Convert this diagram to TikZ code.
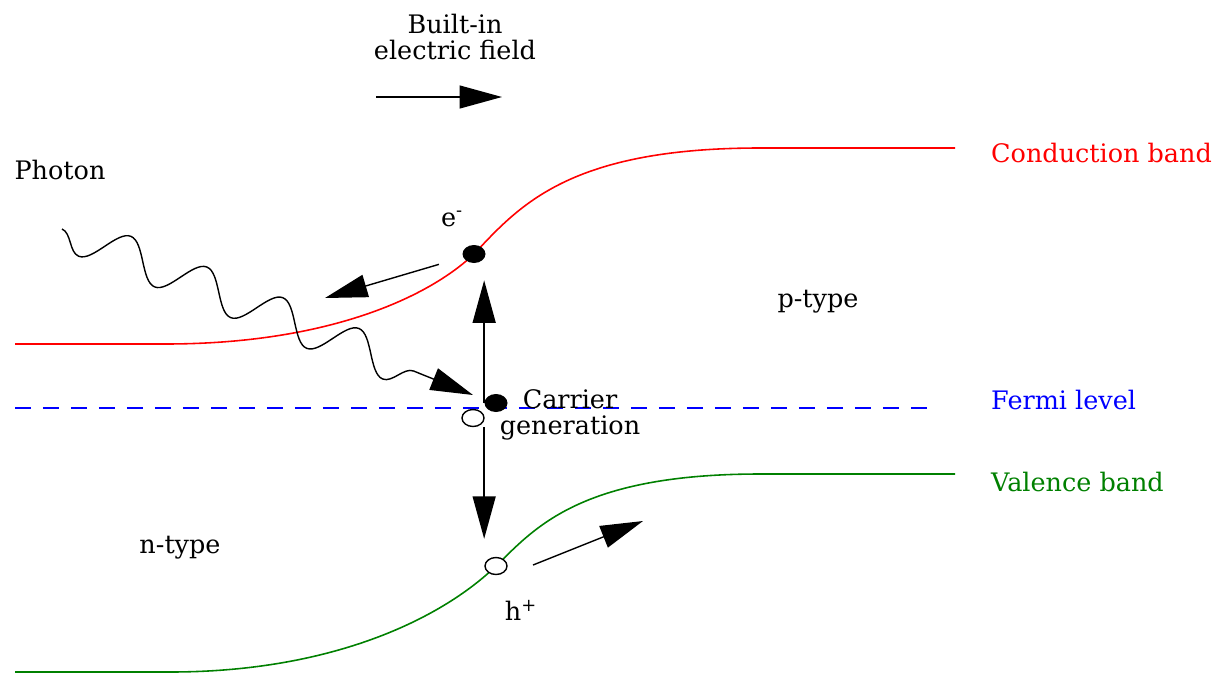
\documentclass[tikz,border=0pt]{standalone}
\usepackage{amsmath}
\usepackage{fontspec}
\setmainfont{DejaVu Serif}
\usetikzlibrary{arrows.meta,calc,decorations.pathmorphing,shapes.geometric}
\definecolor{cband}{HTML}{FF0000}
\definecolor{fermi}{HTML}{0000FF}
\definecolor{vband}{HTML}{008000}

\begin{document}
\begin{tikzpicture}[x=0.02cm,y=-0.02cm,font=\fontsize{14.5}{14.5}\selectfont,
  >={Triangle[length=0.85cm,width=0.46cm]},
  carrier/.style={->,line width=0.8pt},
  electron/.style={ellipse,fill=black,minimum width=0.46cm,minimum height=0.36cm,inner sep=0pt},
  hole/.style={ellipse,draw,fill=white,line width=0.8pt,minimum width=0.44cm,minimum height=0.34cm,inner sep=0pt},
  photon/.style={->,line width=0.8pt,decorate,
    decoration={snake,mirror,amplitude=0.38cm,segment length=1.64cm,post length=1.2cm}}]
  \useasboundingbox (0,0) rectangle (1216,673);
  % bands
  \draw[cband,line width=0.9pt] (15,344) -- (165,344) .. controls (330,344) and (430,296) .. (474,254)
    .. controls (520,205) and (570,148) .. (760,148) -- (955,148);
  \draw[vband,line width=0.9pt] (15,672) -- (170,672) .. controls (330,672) and (440,620) .. (496,566)
    .. controls (535,528) and (580,474) .. (760,474) -- (955,474);
  \draw[fermi,line width=0.9pt,dash pattern=on 0.32cm off 0.24cm] (15,408) -- (935,408);
  \node[anchor=west,text=cband] (cblabel) at (985,153) {Conduction band};
  \node[anchor=west,text=fermi] (fllabel) at (985,400) {Fermi level};
  \node[anchor=west,text=vband] (vblabel) at (985,482) {Valence band};
  % carriers
  \node[electron] (el) at (474,254) {};
  \node[electron] (gen) at (496,403) {};
  \node[hole] (hgen) at (473,418) {};
  \node[hole] (ho) at (496,566) {};
  \node (elabel) at (452,219) {e\textsuperscript{-}};
  \node (hlabel) at (521,610) {h\textsuperscript{+}};
  \node[align=center] (genlabel) at (570,415) {Carrier\\generation};
  \node (ptype) at (818,302) {p-type};
  \node (ntype) at (180,548) {n-type};
  % built-in field
  \node[align=center] (field) at (455,37) {Built-in\\electric field};
  \coordinate (ftail) at (376,97); \coordinate (fhead) at (502,97);
  \draw[carrier] (ftail) -- (fhead);
  % photon
  \node (phlabel) at (60,170) {Photon};
  \coordinate (phstart) at (62,229);
  \coordinate (phend) at ($(gen)+(-23,-8)$);
  \draw[photon] (phstart) -- (phend);
  % drift of the carriers
  \coordinate (eflow) at (325,298); \coordinate (hflow) at (643,521);
  \draw[carrier,shorten <=0.5cm] (el) -- (eflow);
  \draw[carrier] ($(ho)+(37,-1)$) -- (hflow);
  \draw[carrier,shorten >=0.34cm] (gen.west) -- (gen.west |- el.south);
  \draw[carrier,shorten >=0.36cm] (gen.west |- hgen.south) -- (gen.west |- ho.north);
\end{tikzpicture}
\end{document}
